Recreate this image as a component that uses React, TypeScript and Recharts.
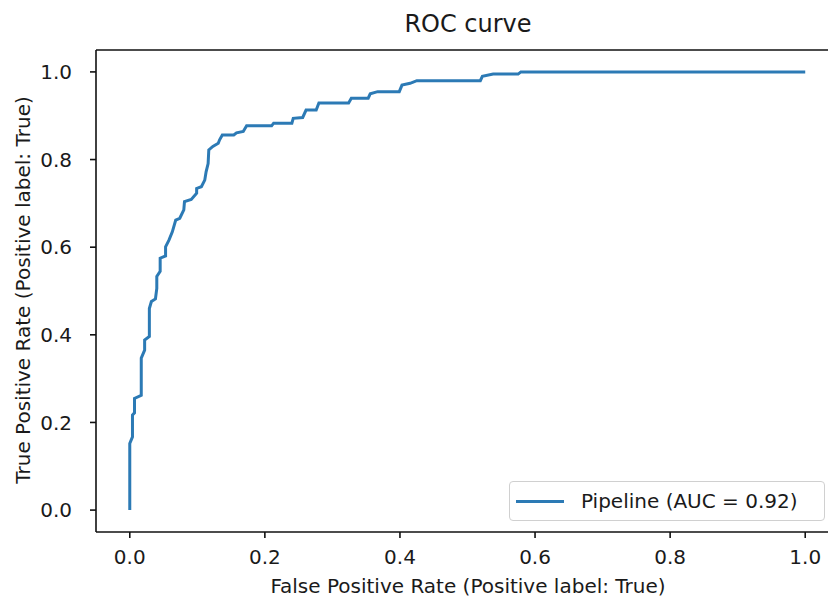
import { LineChart, Line, XAxis, YAxis, Legend, ReferenceLine } from 'recharts';

// ROC points (false positive rate, true positive rate)
const fpr = [
  0, 0, 0.004, 0.004, 0.007, 0.007, 0.017, 0.017, 0.022, 0.022,
  0.029, 0.029, 0.032, 0.038, 0.04, 0.04, 0.045, 0.045, 0.053, 0.053,
  0.058, 0.063, 0.068, 0.074, 0.08, 0.081, 0.091, 0.099, 0.099, 0.106,
  0.111, 0.113, 0.116, 0.117, 0.123, 0.131, 0.133, 0.137, 0.154, 0.158,
  0.168, 0.173, 0.21, 0.213, 0.24, 0.242, 0.256, 0.261, 0.276, 0.28,
  0.324, 0.328, 0.353, 0.356, 0.367, 0.399, 0.403, 0.415, 0.425, 0.519,
  0.522, 0.538, 0.575, 0.579, 1.0,
];
const tpr = [
  0, 0.152, 0.167, 0.217, 0.222, 0.255, 0.262, 0.347, 0.365, 0.388,
  0.396, 0.46, 0.476, 0.482, 0.506, 0.533, 0.545, 0.575, 0.58, 0.601,
  0.616, 0.635, 0.662, 0.666, 0.685, 0.704, 0.709, 0.723, 0.734, 0.738,
  0.753, 0.772, 0.791, 0.822, 0.83, 0.837, 0.845, 0.856, 0.856, 0.861,
  0.864, 0.877, 0.877, 0.883, 0.883, 0.894, 0.896, 0.913, 0.913, 0.929,
  0.929, 0.94, 0.94, 0.95, 0.955, 0.955, 0.97, 0.974, 0.98, 0.98,
  0.99, 0.995, 0.995, 1.0, 1.0,
];
const ticks = [0, 0.2, 0.4, 0.6, 0.8, 1.0];

const seriesName = 'Pipeline (AUC = 0.92)';
const title = 'ROC curve';
const xLabel = 'False Positive Rate (Positive label: True)';
const yLabel = 'True Positive Rate (Positive label: True)';

const FONT = '"DejaVu Sans", sans-serif';
const BLUE = '#2c7ab5';
const DOMAIN: [number, number] = [-0.05, 1.05];

const data = fpr.map((x, i) => ({ fpr: x, tpr: tpr[i] }));

const tickStyle = { fontSize: 20, fill: '#1a1a1a', fontFamily: FONT };
const spine = { stroke: '#111', strokeWidth: 1.6 };

const LegendBox = () => (
  <div
    style={{
      width: 316, height: 40, boxSizing: 'border-box',
      border: '1px solid #d0d0d0', borderRadius: 4, background: 'rgba(255,255,255,0.85)',
      display: 'flex', alignItems: 'center', fontFamily: FONT, fontSize: 20, color: '#1a1a1a',
    }}
  >
    <span style={{ display: 'inline-block', width: 48, height: 3, background: BLUE, marginLeft: 6, marginRight: 17 }} />
    <span>{seriesName}</span>
  </div>
);

export default function App() {
  return (
    <div style={{ position: 'absolute', left: 0, top: 0, width: 828, height: 599, overflow: 'hidden', background: '#fff' }}>
      <LineChart
        width={839}
        height={599}
        data={data}
        margin={{ top: 50, right: 0, left: 36, bottom: 27 }}
      >
        <XAxis
          dataKey="fpr"
          type="number"
          domain={DOMAIN}
          ticks={ticks}
          tickFormatter={(v: number) => v.toFixed(1)}
          allowDataOverflow
          height={40}
          tickSize={6}
          tickMargin={12}
          tick={tickStyle}
          axisLine={spine}
          tickLine={spine}
        />
        <YAxis
          type="number"
          domain={DOMAIN}
          ticks={ticks}
          tickFormatter={(v: number) => v.toFixed(1)}
          allowDataOverflow
          width={60}
          tickSize={6}
          tickMargin={18}
          tick={tickStyle}
          axisLine={spine}
          tickLine={spine}
        />
        {/* top and right frame lines of the axes box */}
        <ReferenceLine y={DOMAIN[1]} stroke="#111" strokeWidth={1.6} />
        <ReferenceLine x={DOMAIN[1]} stroke="#111" strokeWidth={1.6} />
        <Legend
          layout="horizontal"
          verticalAlign="middle"
          align="center"
          content={() => <LegendBox />}
          wrapperStyle={{ position: 'absolute', left: 509, top: 481, width: 316, height: 40 }}
        />
        <Line
          type="linear"
          dataKey="tpr"
          name={seriesName}
          stroke={BLUE}
          strokeWidth={3}
          dot={false}
          activeDot={false}
          isAnimationActive={false}
        />
      </LineChart>
      <svg
        width={828}
        height={599}
        style={{ position: 'absolute', left: 0, top: 0, pointerEvents: 'none' }}
        fontFamily={FONT}
        fill="#1a1a1a"
      >
        <text x={468} y={31.5} fontSize={24} textAnchor="middle">{title}</text>
        <text x={468} y={593} fontSize={20} textAnchor="middle">{xLabel}</text>
        <text transform="translate(30, 290) rotate(-90)" fontSize={20} textAnchor="middle">{yLabel}</text>
      </svg>
    </div>
  );
}
